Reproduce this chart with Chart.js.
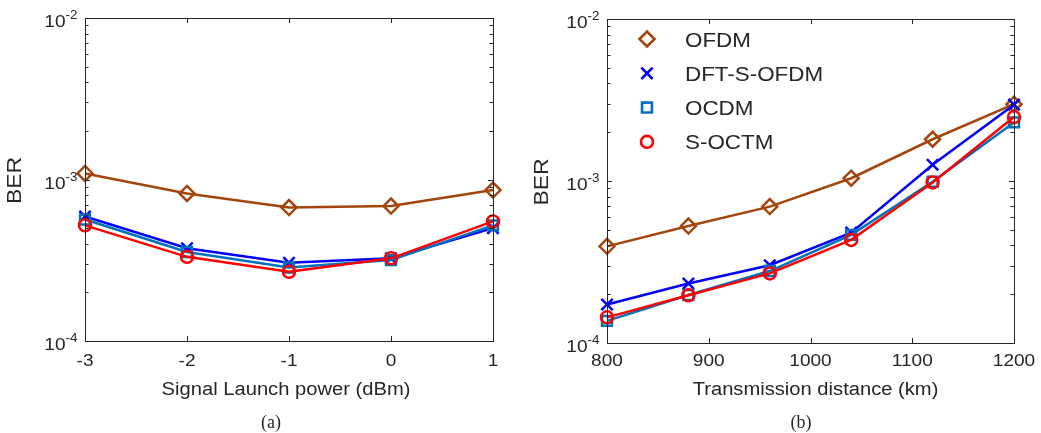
<!DOCTYPE html>
<html>
<head>
<meta charset="utf-8">
<script src="https://cdn.jsdelivr.net/npm/chart.js@4/dist/chart.umd.min.js"></script>
<style>
  html, body { margin: 0; padding: 0; background: #fff; }
  body { width: 1041px; height: 433px; position: relative; overflow: hidden; }
  .panel { position: absolute; top: 0; height: 433px; }
  #panelA { left: 0; width: 520px; }
  #panelB { left: 520px; width: 521px; }
</style>
</head>
<body>
<div class="panel" id="panelA"><canvas id="chartA"></canvas></div>
<div class="panel" id="panelB"><canvas id="chartB"></canvas></div>
<script>
// (a) BER vs launch power
const powerDbm = [-3, -2, -1, 0, 1];
const berOfdmA  = [1.09e-3, 8.2e-4, 6.7e-4, 6.85e-4, 8.6e-4];
const berDftA   = [5.9e-4, 3.75e-4, 3.05e-4, 3.25e-4, 5.0e-4];
const berOcdmA  = [5.65e-4, 3.56e-4, 2.85e-4, 3.17e-4, 5.2e-4];
const berSoctmA = [5.2e-4, 3.32e-4, 2.68e-4, 3.25e-4, 5.5e-4];

// (b) BER vs distance
const distanceKm = [800, 880, 960, 1040, 1120, 1200];
const berOfdmB  = [3.95e-4, 5.27e-4, 6.95e-4, 1.04e-3, 1.81e-3, 2.98e-3];
const berDftB   = [1.73e-4, 2.33e-4, 3.02e-4, 4.8e-4, 1.26e-3, 2.96e-3];
const berOcdmB  = [1.37e-4, 1.98e-4, 2.78e-4, 4.65e-4, 9.9e-4, 2.3e-3];
const berSoctmB = [1.44e-4, 1.97e-4, 2.69e-4, 4.33e-4, 9.8e-4, 2.48e-3];

const xTicksA = [-3, -2, -1, 0, 1];
const xTicksB = [800, 900, 1000, 1100, 1200];
const yTickExps = [-4, -3, -2];

const SERIES = [
  { label: 'OFDM',       color: '#A3450C', style: 'rectRot',  radius: 7.5 },
  { label: 'DFT-S-OFDM', color: '#0000FF', style: 'crossRot', radius: 8 },
  { label: 'OCDM',       color: '#0072BD', style: 'rect',     radius: 7 },
  { label: 'S-OCTM',     color: '#FF0000', style: 'circle',   radius: 6 }
];

const INK = '#262626';
const SX = 1.12; // the original text is a bit wider than Liberation Sans

function txt(ctx, s, x, y, size, align, family) {
  ctx.save();
  ctx.font = size + 'px ' + (family || '"Liberation Sans", Arial, sans-serif');
  ctx.fillStyle = INK;
  ctx.textAlign = align;
  ctx.textBaseline = 'alphabetic';
  ctx.translate(x, y);
  if (!family) ctx.scale(SX, 1);
  ctx.fillText(s, 0, 0);
  ctx.restore();
}

function textWidth(ctx, s, size) {
  ctx.save();
  ctx.font = size + 'px "Liberation Sans", Arial, sans-serif';
  const w = ctx.measureText(s).width * SX;
  ctx.restore();
  return w;
}

// MATLAB-like box, inward ticks and labels
const framePlugin = {
  id: 'frame',
  afterDatasetsDraw(chart, args, o) {
    const { ctx, chartArea: a, scales: { x, y } } = chart;
    ctx.save();
    ctx.strokeStyle = INK;
    ctx.lineWidth = 1;
    ctx.strokeRect(Math.round(a.left) + 0.5, Math.round(a.top) + 0.5,
                   Math.round(a.right - a.left), Math.round(a.bottom - a.top));
    ctx.beginPath();
    o.xTicks.forEach(v => {
      const px = Math.round(x.getPixelForValue(v)) + 0.5;
      ctx.moveTo(px, a.bottom); ctx.lineTo(px, a.bottom - 5);
      ctx.moveTo(px, a.top); ctx.lineTo(px, a.top + 5);
    });
    yTickExps.forEach(e => {
      const py = Math.round(y.getPixelForValue(Math.pow(10, e))) + 0.5;
      ctx.moveTo(a.left, py); ctx.lineTo(a.left + 5, py);
      ctx.moveTo(a.right, py); ctx.lineTo(a.right - 5, py);
      if (e < -2) {
        for (let m = 2; m <= 9; m++) {
          const pm = Math.round(y.getPixelForValue(m * Math.pow(10, e))) + 0.5;
          ctx.moveTo(a.left, pm); ctx.lineTo(a.left + 3.5, pm);
          ctx.moveTo(a.right, pm); ctx.lineTo(a.right - 3.5, pm);
        }
      }
    });
    ctx.stroke();
    ctx.restore();

    o.xTicks.forEach(v => txt(ctx, String(v), x.getPixelForValue(v), 366, 17, 'center'));
    yTickExps.forEach(e => {
      const py = y.getPixelForValue(Math.pow(10, e));
      const sup = String(e);
      const xEnd = a.left - 7.5;
      const sw = textWidth(ctx, sup, 12);
      txt(ctx, sup, xEnd - sw, py + 1, 12, 'left');
      txt(ctx, '10', xEnd - sw, py + 9, 17, 'right');
    });
    txt(ctx, o.xTitle, (a.left + a.right) / 2 + o.titleShift, 395, 18, 'center');
    ctx.save();
    ctx.translate(o.yTitleX, (a.top + a.bottom) / 2 + 1);
    ctx.rotate(-Math.PI / 2);
    txt(ctx, 'BER', 0, 0, 20.5, 'center');
    ctx.restore();
    txt(ctx, o.caption, o.captionX, 428, 18, 'center', '"Liberation Serif", "Times New Roman", serif');

    if (o.legend) {
      SERIES.forEach((s, i) => {
        const cy = 39 + i * 34.3;
        ctx.save();
        ctx.strokeStyle = s.color;
        ctx.fillStyle = 'rgba(0,0,0,0)';
        ctx.lineWidth = 2.6;
        Chart.helpers.drawPoint(ctx, { pointStyle: s.style, radius: s.radius, rotation: 0, borderWidth: 2.6 }, 127, cy);
        ctx.restore();
        txt(ctx, s.label, 165, cy + 7.5, 20, 'left');
      });
    }
  }
};

function buildChart(id, xs, ys, xMin, xMax, padding, frame) {
  const datasets = SERIES.map((s, i) => ({
    label: s.label,
    data: xs.map((v, k) => ({ x: v, y: ys[i][k] })),
    borderColor: s.color,
    backgroundColor: 'rgba(0,0,0,0)',
    borderWidth: 2.5,
    pointStyle: s.style,
    pointRadius: s.radius,
    pointBorderWidth: 2.5,
    pointBorderColor: s.color,
    pointBackgroundColor: 'rgba(0,0,0,0)',
    tension: 0,
    clip: false,
    order: SERIES.length - i
  }));
  return new Chart(document.getElementById(id), {
    type: 'line',
    data: { datasets },
    options: {
      responsive: true,
      maintainAspectRatio: false,
      animation: false,
      layout: { padding },
      plugins: { legend: { display: false }, tooltip: { enabled: false }, frame },
      scales: {
        x: { type: 'linear', min: xMin, max: xMax, display: false },
        y: { type: 'logarithmic', min: 1e-4, max: 1e-2, display: false }
      }
    },
    plugins: [framePlugin]
  });
}

buildChart('chartA', powerDbm, [berOfdmA, berDftA, berOcdmA, berSoctmA], -3, 1,
  { left: 85, right: 27, top: 18, bottom: 92 },
  { xTicks: xTicksA, xTitle: 'Signal Launch power (dBm)', titleShift: -3, yTitleX: 21, caption: '(a)', captionX: 271, legend: false });

buildChart('chartB', distanceKm, [berOfdmB, berDftB, berOcdmB, berSoctmB], 800, 1200,
  { left: 87, right: 27, top: 19, bottom: 90 },
  { xTicks: xTicksB, xTitle: 'Transmission distance (km)', titleShift: 5, yTitleX: 28, caption: '(b)', captionX: 281, legend: true });
</script>
</body>
</html>
